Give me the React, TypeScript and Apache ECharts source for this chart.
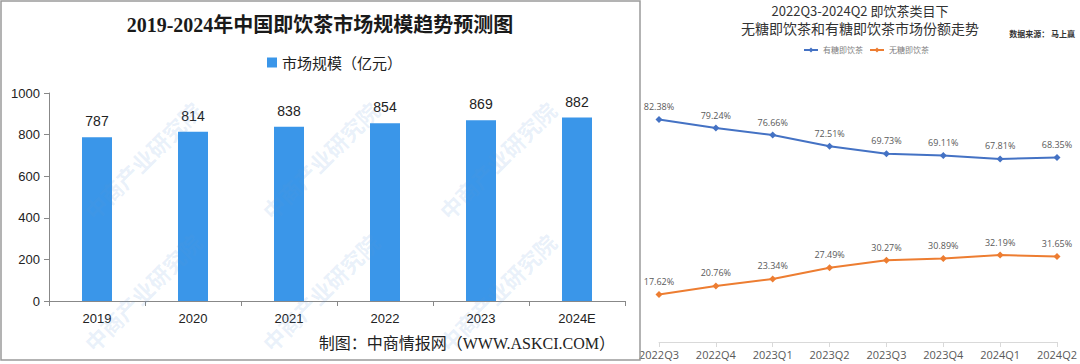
import React, { useEffect, useRef } from "react";
import * as echarts from "echarts";

const years = ["2019", "2020", "2021", "2022", "2023", "2024E"];
const marketSize = [787, 814, 838, 854, 869, 882];
const quarters = ["2022Q3", "2022Q4", "2023Q1", "2023Q2", "2023Q3", "2023Q4", "2024Q1", "2024Q2"];
const sugared = [82.38, 79.24, 76.66, 72.51, 69.73, 69.11, 67.81, 68.35];
const sugarFree = [17.62, 20.76, 23.34, 27.49, 30.27, 30.89, 32.19, 31.65];

const leftTitle = "2019-2024年中国即饮茶市场规模趋势预测图";
const leftLegend = "市场规模（亿元）";
const leftSource = "制图：中商情报网（WWW.ASKCI.COM）";
const rightTitle1 = "2022Q3-2024Q2 即饮茶类目下";
const rightTitle2 = "无糖即饮茶和有糖即饮茶市场份额走势";
const rightSource = "数据来源： 马上赢";
const sugaredName = "有糖即饮茶";
const sugarFreeName = "无糖即饮茶";
const watermark = "中商产业研究院";

const wmX = [142, 320, 497];
const wmY = [160, 292];

function txt(x: number, y: number, text: string, size: number, fill: string, align: string, extra: any = {}) {
  return {
    type: "text",
    x,
    y,
    z: 100,
    style: {
      text,
      fontSize: size,
      fill,
      align,
      textAlign: align,
      verticalAlign: "middle",
      textVerticalAlign: "middle",
      fontFamily: "'Noto Sans CJK SC', sans-serif",
      ...extra,
    },
  };
}

export default function App() {
  const ref = useRef<HTMLDivElement>(null);
  useEffect(() => {
    if (!ref.current) return;
    const chart = echarts.init(ref.current, undefined, { renderer: "svg" });
    const marks: any[] = [];
    wmX.forEach((x) =>
      wmY.forEach((y) =>
        marks.push({
          type: "text",
          x,
          y,
          rotation: Math.PI / 4,
          z: 50,
          style: {
            text: watermark,
            fontSize: 22,
            fontWeight: "bold",
            fill: "rgba(90,150,215,0.14)",
            align: "center",
            textAlign: "center",
            verticalAlign: "middle",
            textVerticalAlign: "middle",
            fontFamily: "'Noto Sans CJK SC', sans-serif",
          },
        })
      )
    );
    chart.setOption({
      animation: false,
      backgroundColor: "#ffffff",
      graphic: [
        {
          type: "rect",
          z: 100,
          shape: { x: 1, y: 1, width: 639, height: 359 },
          style: { fill: "none", stroke: "#9a9a9a", lineWidth: 1.5 },
        },
        ...marks,
        txt(320, 25, leftTitle, 20, "#1a1a1a", "center", {
          fontWeight: "bold",
          fontFamily: "'Liberation Serif', 'Noto Sans CJK SC', serif",
        }),
        txt(615, 343, leftSource, 16, "#222", "right", {
          fontFamily: "'Liberation Serif', 'Noto Sans CJK SC', serif",
        }),
        txt(860, 10, rightTitle1, 13, "#333", "center"),
        txt(860, 28, rightTitle2, 14, "#333", "center"),
        txt(1075, 33, rightSource, 8, "#333", "right", { fontWeight: "bold" }),
      ],
      legend: [
        {
          data: [leftLegend],
          left: 262,
          top: 50,
          icon: "rect",
          itemWidth: 10,
          itemHeight: 10,
          itemGap: 5,
          textStyle: { fontSize: 15, color: "#222", fontFamily: "'Noto Sans CJK SC', sans-serif" },
        },
        {
          data: [sugaredName, sugarFreeName],
          left: 798,
          top: 41,
          itemWidth: 14,
          itemHeight: 6,
          itemGap: 6,
          textStyle: { fontSize: 8, color: "#7f7f7f", fontFamily: "'Noto Sans CJK SC', sans-serif" },
        },
      ],
      grid: [
        { left: 49, top: 93, width: 576, height: 208 },
        { left: 659, top: 72, width: 403, height: 270 },
      ],
      xAxis: [
        {
          type: "category",
          gridIndex: 0,
          data: years,
          axisLine: { lineStyle: { color: "#888", width: 1 } },
          axisTick: { show: true, length: 5, lineStyle: { color: "#888" } },
          axisLabel: { fontSize: 13, color: "#222", margin: 11, fontFamily: "Arial, 'Liberation Sans', sans-serif" },
        },
        {
          type: "category",
          gridIndex: 1,
          data: quarters,
          boundaryGap: false,
          axisLine: { lineStyle: { color: "#d9d9d9", width: 1 } },
          axisTick: { show: true, length: 5, lineStyle: { color: "#d9d9d9" } },
          axisLabel: { fontSize: 11, color: "#595959", margin: 7, fontFamily: "'Open Sans', sans-serif" },
        },
      ],
      yAxis: [
        {
          type: "value",
          gridIndex: 0,
          min: 0,
          max: 1000,
          interval: 200,
          axisLine: { show: true, lineStyle: { color: "#888", width: 1 } },
          axisTick: { show: true, length: 5, lineStyle: { color: "#888" } },
          splitLine: { show: false },
          axisLabel: {
            fontSize: 13,
            color: "#222",
            margin: 9,
            fontFamily: "Arial, 'Liberation Sans', sans-serif",
            formatter: (v: number) => String(v),
          },
        },
        { type: "value", gridIndex: 1, min: 0, max: 100, show: false, splitLine: { show: false } },
      ],
      series: [
        {
          name: leftLegend,
          type: "bar",
          xAxisIndex: 0,
          yAxisIndex: 0,
          data: marketSize,
          barWidth: 30,
          itemStyle: { color: "#3a96e9" },
          label: {
            show: true,
            position: "top",
            distance: 9,
            fontSize: 14,
            color: "#222",
            fontFamily: "Arial, 'Liberation Sans', sans-serif",
          },
        },
        {
          name: sugaredName,
          type: "line",
          xAxisIndex: 1,
          yAxisIndex: 1,
          data: sugared,
          symbol: "diamond",
          symbolSize: 7,
          color: "#4472c4",
          lineStyle: { width: 2, color: "#4472c4" },
          itemStyle: { color: "#4472c4" },
          label: {
            show: true,
            position: "top",
            distance: 5,
            fontSize: 9,
            color: "#595959",
            fontFamily: "'Open Sans', sans-serif",
            formatter: (p: any) => Number(p.value).toFixed(2) + "%",
          },
        },
        {
          name: sugarFreeName,
          type: "line",
          xAxisIndex: 1,
          yAxisIndex: 1,
          data: sugarFree,
          symbol: "diamond",
          symbolSize: 7,
          color: "#ed7d31",
          lineStyle: { width: 2, color: "#ed7d31" },
          itemStyle: { color: "#ed7d31" },
          label: {
            show: true,
            position: "top",
            distance: 5,
            fontSize: 9,
            color: "#595959",
            fontFamily: "'Open Sans', sans-serif",
            formatter: (p: any) => Number(p.value).toFixed(2) + "%",
          },
        },
      ],
    });
    return () => chart.dispose();
  }, []);
  return (
    <div
      ref={ref}
      style={{ position: "fixed", left: 0, top: 0, width: 1080, height: 364, background: "#fff" }}
    />
  );
}
